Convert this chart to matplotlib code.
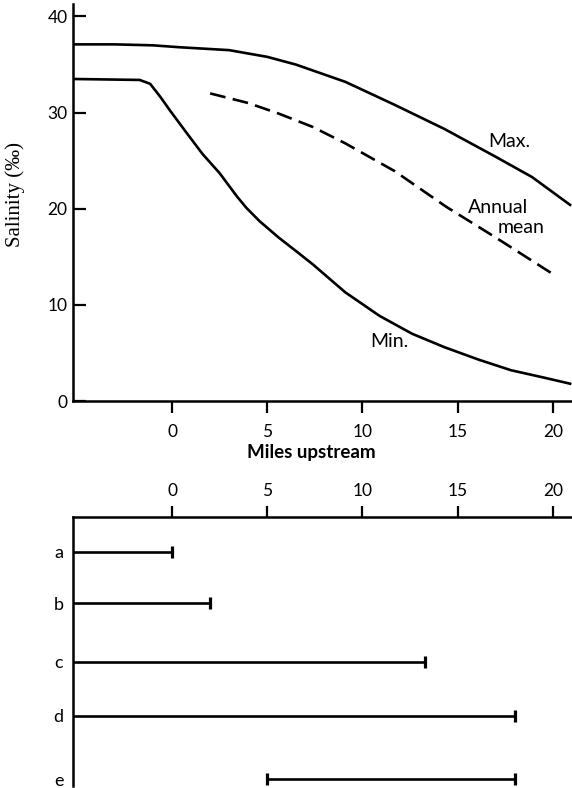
import matplotlib
matplotlib.use("Agg")
import matplotlib.pyplot as plt

plt.rcParams['font.family'] = ['Lato', 'DejaVu Sans']

# ---- Data: salinity profiles (miles upstream vs salinity, per mille) ----
max_x = [-5.2, -3.0, -1.0, 0.4, 3.0, 5.0, 6.5, 9.1, 11.7, 14.3, 17.0, 18.9, 20.9]
max_y = [37.1, 37.1, 37.0, 36.8, 36.5, 35.8, 35.0, 33.2, 30.8, 28.3, 25.4, 23.3, 20.4]

min_x = [-5.2, -1.7, -1.15, -0.6, -0.1, 0.8, 1.6, 2.5, 3.4, 3.9, 4.6, 5.6, 6.7,
         7.4, 9.1, 10.9, 12.6, 14.3, 16.1, 17.8, 19.6, 20.9]
min_y = [33.5, 33.4, 33.0, 31.6, 30.2, 27.8, 25.7, 23.7, 21.3, 20.1, 18.7, 17.0, 15.3,
         14.2, 11.3, 8.85, 7.0, 5.6, 4.3, 3.2, 2.4, 1.8]

mean_x = [2.0, 4.0, 5.6, 7.4, 9.1, 11.7, 14.4, 17.0, 20.0]
mean_y = [32.0, 31.0, 29.9, 28.5, 26.8, 23.9, 20.2, 17.0, 13.2]

# ---- Data: ranges (miles upstream) ----
range_labels = ['a', 'b', 'c', 'd', 'e']
range_start = [None, None, None, None, 5.0]   # None = from seaward limit of chart
range_end = [0.0, 2.0, 13.3, 18.0, 18.0]

x_ticks = [0, 5, 10, 15, 20]
y_ticks = [0, 10, 20, 30, 40]

XMIN, XMAX = -5.2, 21.0
W, H = 572, 788
fig = plt.figure(figsize=(W / 100, H / 100), dpi=100)

LW = 1.9
SPW = 1.8

# ---------------- Top panel ----------------
ax1 = fig.add_axes([73 / W, 1 - 401 / H, (W - 73) / W, (401 - 4) / H])
ax1.plot(max_x, max_y, color='black', lw=LW, solid_joinstyle='round')
ax1.plot(min_x, min_y, color='black', lw=LW, solid_joinstyle='round')
ax1.plot(mean_x, mean_y, color='black', lw=LW, dashes=(6, 2.8))
ax1.set_xlim(XMIN, XMAX)
ax1.set_ylim(0, 41.3)
ax1.set_xticks(x_ticks)
ax1.set_yticks(y_ticks)
for s in ['top', 'right']:
    ax1.spines[s].set_visible(False)
for s in ['left', 'bottom']:
    ax1.spines[s].set_linewidth(SPW)
ax1.tick_params(axis='y', direction='in', length=9, width=1.6, pad=4, labelsize=12.5)
ax1.tick_params(axis='x', direction='out', length=8.5, width=1.6, pad=8, labelsize=12.5)
ax1.set_ylabel('Salinity (‰)', family=['Liberation Serif', 'DejaVu Serif'], fontsize=15)
ax1.yaxis.set_label_coords(-0.097, 0.52)

ax1.text(16.6, 26.4, 'Max.', fontsize=14, va='baseline', ha='left')
ax1.text(15.56, 19.6, 'Annual', fontsize=14, va='baseline', ha='left')
ax1.text(17.1, 17.45, 'mean', fontsize=14, va='baseline', ha='left')
ax1.text(10.4, 5.6, 'Min.', fontsize=14, va='baseline', ha='left')

fig.text(311 / W, 1 - 452 / H, 'Miles upstream', fontsize=13.5, fontweight='bold',
         ha='center', va='center')

# ---------------- Bottom panel ----------------
row_pos = [35, 86, 145, 199, 262]
ax2 = fig.add_axes([73 / W, 1 - 786 / H, (W - 73) / W, (786 - 517) / H])
ax2.set_xlim(XMIN, XMAX)
ax2.set_ylim(269, 0)
for lab, s, e, yp in zip(range_labels, range_start, range_end, row_pos):
    x0 = XMIN if s is None else s
    ax2.plot([x0, e], [yp, yp], color='black', lw=1.9, solid_capstyle='butt')
    caps = [e] if s is None else [s, e]
    ax2.plot(caps, [yp] * len(caps), linestyle='none', marker='|', markersize=9,
             markeredgewidth=2.3, color='black')
ax2.set_yticks(row_pos)
ax2.set_yticklabels(range_labels)
ax2.xaxis.tick_top()
ax2.set_xticks(x_ticks)
for s in ['bottom', 'right']:
    ax2.spines[s].set_visible(False)
for s in ['left', 'top']:
    ax2.spines[s].set_linewidth(SPW)
ax2.tick_params(axis='x', direction='out', length=8, width=1.6, pad=5, labelsize=12.5)
ax2.tick_params(axis='y', length=0, pad=7, labelsize=13)

fig.savefig('out.png', dpi=100)
